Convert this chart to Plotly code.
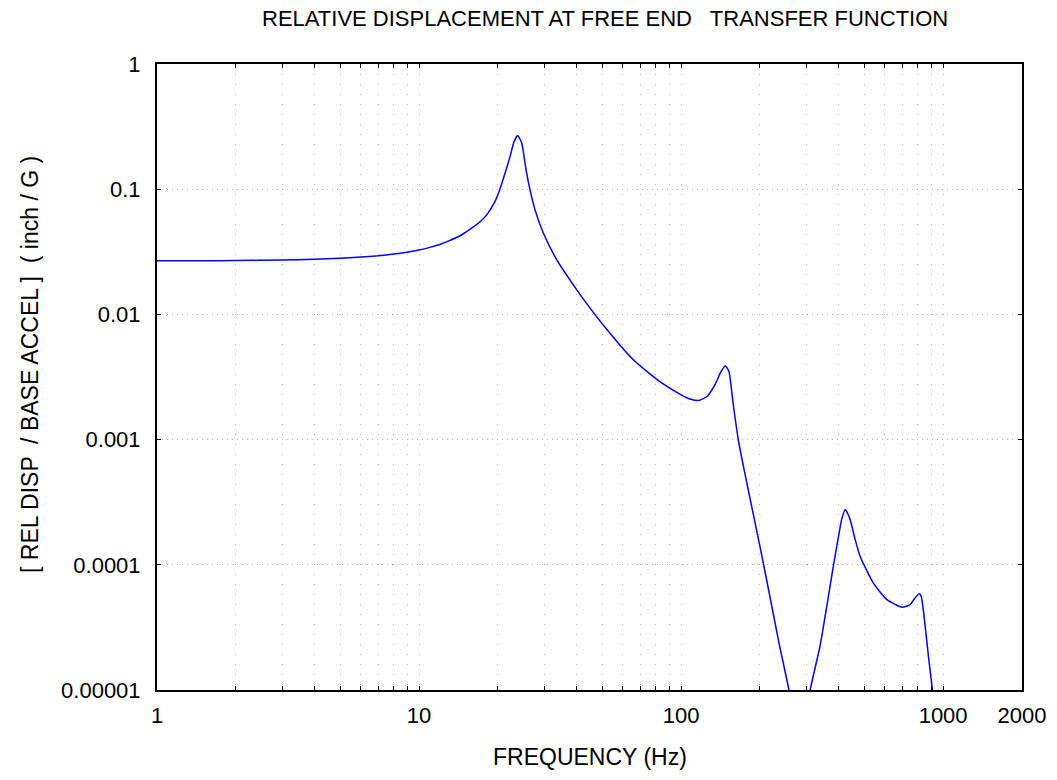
import plotly.graph_objects as go
import math

# Data
freq_hz = [1, 1.5, 2, 3, 4, 5, 6, 7, 8, 9, 10, 11, 12, 13, 14.34, 16.12, 17.1, 18.13, 19.5,
           20.3, 21.29, 22.25, 23.05, 23.8, 24.66, 25.61, 26.52, 27.71, 29.83, 33.55, 40.0,
           42.1, 52.2, 65.7, 83, 100, 108.2, 116.5, 125.5, 134.6, 142.2, 147.6, 152.3,
           157.9, 165.3, 175.7, 186.9, 202.4, 220.5, 236.7, 258, 285, 311,
           339, 360, 381, 405, 411, 423, 431, 442, 460, 482, 541, 610, 698, 749, 780,
           811, 825, 843, 879, 910, 940]
rel_disp = [0.0268, 0.0268, 0.0269, 0.0272, 0.0276, 0.0281, 0.0287, 0.0294, 0.0303, 0.0314,
            0.0327, 0.0343, 0.0362, 0.0387, 0.0425, 0.050, 0.055, 0.0624, 0.080,
            0.0987, 0.134, 0.182, 0.240, 0.268, 0.233, 0.1426, 0.0987, 0.0684, 0.0445,
            0.0273, 0.0157,
            0.0135, 0.00753, 0.00434, 0.0029, 0.00228, 0.00211, 0.00205, 0.00221, 0.00274,
            0.0035, 0.00389, 0.0035,
            0.00196, 0.001, 5.2e-4, 2.78e-4, 1.24e-4, 5.0e-5, 2.35e-5, 1.0e-5, 3e-6,
            1.0e-5,
            2.24e-5, 4.7e-5, 9.7e-5, 2.03e-4, 2.35e-4, 2.76e-4, 2.6e-4, 2.29e-4, 1.64e-4,
            1.17e-4, 7.17e-5, 5.27e-5, 4.58e-5, 4.81e-5, 5.4e-5,
            5.86e-5, 5.6e-5, 4.13e-5, 1.86e-5, 1.0e-5, 4e-6]

x_tickvals = [1, 10, 100, 1000, 2000]
x_ticktext = ["1", "10", "100", "1000", "2000"]
x_minor = [2, 3, 4, 5, 6, 7, 8, 9, 20, 30, 40, 50, 60, 70, 80, 90,
           200, 300, 400, 500, 600, 700, 800, 900]
y_tickvals = [1, 0.1, 0.01, 0.001, 0.0001, 0.00001]
y_ticktext = ["1", "0.1", "0.01", "0.001", "0.0001", "0.00001"]

title_text = "RELATIVE DISPLACEMENT AT FREE END   TRANSFER FUNCTION"
x_title = "FREQUENCY (Hz)"
y_title = "[ REL DISP  / BASE ACCEL ]  ( inch / G )"

FONT = "Liberation Sans, Arial, sans-serif"
GRID = "#b4b4b4"
FS = 22

fig = go.Figure()
fig.add_trace(go.Scatter(
    x=freq_hz, y=rel_disp, mode="lines",
    line=dict(color="#0000ff", width=1.5, shape="spline", smoothing=0.5),
    showlegend=False, hoverinfo="x+y",
))

fig.update_layout(
    width=1057, height=780,
    margin=dict(l=157, r=35, t=64, b=90),
    paper_bgcolor="white", plot_bgcolor="white",
    font=dict(family=FONT, color="black", size=FS),
    showlegend=False,
    annotations=[
        dict(text=title_text, xref="paper", yref="paper", x=(605 - 157) / 865, y=1 + (64 - 18) / 626,
             xanchor="center", yanchor="middle", showarrow=False, font=dict(size=FS)),
        dict(text=x_title, xref="paper", yref="paper", x=0.5, y=-(757 - 690) / 626,
             xanchor="center", yanchor="middle", showarrow=False, font=dict(size=FS + 1)),
        dict(text=y_title, xref="paper", yref="paper", x=-(157 - 30) / 865, y=1 - (365 - 64) / 626,
             xanchor="center", yanchor="middle", textangle=-90, showarrow=False, font=dict(size=FS + 1)),
    ],
)

fig.update_xaxes(
    type="log", range=[0, math.log10(2000)],
    tickvals=x_tickvals, ticktext=x_ticktext,
    ticks="inside", ticklen=4, tickcolor="black", tickwidth=1,
    showline=True, linecolor="black", linewidth=2, mirror="allticks",
    showgrid=True, gridcolor=GRID, griddash="1px,9px", gridwidth=1,
    minor=dict(tickvals=x_minor, ticks="inside", ticklen=4, tickcolor="black",
               showgrid=True, gridcolor=GRID, griddash="1px,9px", gridwidth=1),
    zeroline=False, ticklabelstandoff=5,
    tickfont=dict(size=FS),
)
fig.update_yaxes(
    type="log", range=[-5, 0],
    tickvals=y_tickvals, ticktext=y_ticktext,
    ticks="inside", ticklen=4, tickcolor="black", tickwidth=1,
    showline=True, linecolor="black", linewidth=2, mirror="allticks",
    showgrid=True, gridcolor=GRID, griddash="1px,4px", gridwidth=1,
    zeroline=False, ticklabelstandoff=10,
    tickfont=dict(size=FS),
)

fig.write_html("out.html")
